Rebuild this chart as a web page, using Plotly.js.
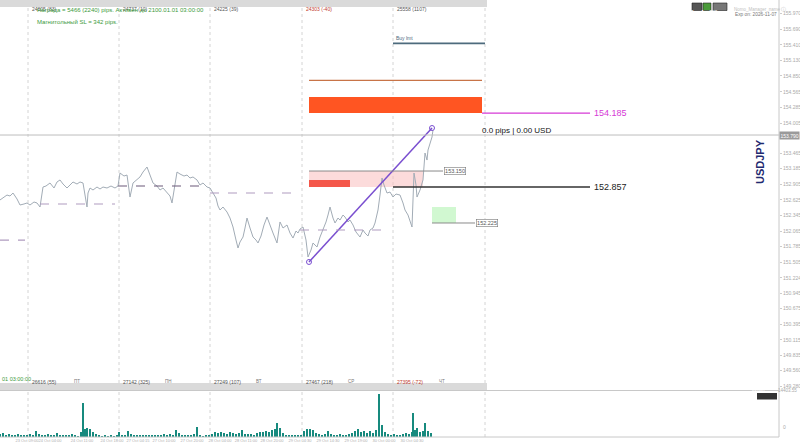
<!DOCTYPE html>
<html><head><meta charset="utf-8">
<script src="https://cdn.plot.ly/plotly-3.0.1.min.js"></script>
<style>html,body{margin:0;padding:0;background:#fff}#c{width:800px;height:446px}</style>
</head><body><div id="c"></div>
<script>
// ---- data ----
const priceX = [0,4,7,10,13,17,20,24,27,30,34,37,40,43,46,50,54,57,60,63,67,70,73,77,80,83,85,87,88,90,93,97,100,103,107,111,115,118,120,124,127,130,133,137,140,143,147,150,153,157,160,163,167,170,172,175,177,180,184,187,190,193,197,200,203,207,210,213,216,218,220,223,227,230,233,236,238,240,243,245,247,250,253,256,258,261,264,267,270,273,275,277,280,283,287,290,293,296,298,300,303,306,308,311,313,317,320,323,326,328,330,333,335,338,340,343,345,348,350,353,356,360,363,365,368,370,373,375,378,380,382,384,387,390,393,396,400,403,405,408,410,412,413,414,416,417,420,423,425,427,428,430,432,433];
const priceY = [152.624,152.677,152.713,152.695,152.749,152.642,152.534,152.552,152.570,152.534,152.588,152.570,152.498,152.857,152.875,152.929,152.839,152.947,152.983,152.911,152.839,152.893,152.947,152.911,152.947,152.929,152.713,152.498,152.749,152.839,152.803,152.857,152.821,152.857,152.839,152.875,152.839,152.875,153.108,153.054,153.072,152.677,152.929,152.983,153.037,153.126,153.216,153.072,152.929,152.875,152.803,152.839,152.749,152.695,152.570,152.893,153.126,153.090,153.054,153.072,153.018,153.037,152.983,152.893,152.929,152.857,152.839,152.749,152.659,152.516,152.444,152.498,152.408,152.300,152.139,151.905,151.762,151.870,151.959,152.121,152.300,152.121,151.959,151.905,151.852,151.977,152.175,152.318,152.157,152.031,151.941,151.852,152.229,152.121,152.175,152.031,151.941,152.067,152.031,152.103,152.139,151.905,151.600,151.726,151.852,151.780,151.959,152.085,152.229,152.354,152.498,152.300,152.211,152.300,152.264,152.354,152.318,152.229,152.264,152.175,152.049,151.959,152.085,152.031,151.977,152.085,152.121,152.211,152.444,152.713,153.018,152.893,152.749,152.767,152.677,152.731,152.713,152.570,152.444,152.354,152.264,152.139,152.624,153.108,152.893,152.677,152.803,152.983,153.467,153.341,153.521,153.647,153.754,153.880];

const volX = [0,3,6,9,12,15,18,21,24,27,30,33,36,39,42,45,48,51,54,57,60,63,66,69,72,75,78,81,83,85,87,90,93,96,99,102,105,108,111,114,117,119,122,125,128,131,134,137,140,143,146,149,152,155,158,161,164,167,170,173,176,179,182,185,188,191,194,197,200,203,206,209,212,215,218,221,224,227,230,233,236,239,242,245,248,251,254,257,260,263,266,269,272,275,277,280,283,286,289,292,295,298,301,304,307,310,313,316,319,322,325,328,331,334,337,340,343,346,349,352,355,358,361,364,367,370,373,376,379,382,385,388,391,394,397,400,403,406,409,412,413,415,417,420,423,425,428,431];
const volY = [900,1200,700,1000,600,800,1100,500,700,600,900,700,1800,1000,700,600,1000,800,700,1200,600,500,700,600,900,500,400,1600,10900,2600,3000,2600,1500,900,600,400,500,300,700,400,500,1600,800,700,1800,900,600,700,500,600,800,600,500,700,600,800,900,700,1000,800,2100,1200,700,600,500,700,900,3200,700,400,500,600,900,1500,1300,1700,1200,900,1500,1200,1000,1300,2300,1100,900,1000,800,1300,1500,1700,1900,1600,2200,2600,4500,3000,1200,800,700,600,500,600,700,1800,2600,2500,2200,1400,1000,800,900,1800,1100,800,700,900,700,800,1000,1200,1900,2500,1500,1800,1200,1900,1400,2200,13800,4000,1500,1000,800,900,700,600,900,1200,1000,1500,7700,2200,3000,1500,1800,4500,2000,1200];

const levelStart = [0,40,118,210,300];
const levelEnd   = [25,115,207,298,390];
const levelPrice = [151.905,152.552,152.875,152.749,152.085];

const trendX = [309,432];
const trendY = [151.511,153.916];

const priceTicks = [155.970,155.690,155.410,155.130,154.850,154.565,154.285,154.005,153.465,153.185,152.905,152.625,152.345,152.065,151.785,151.505,151.224,150.945,150.675,150.395,150.115,149.835,149.560,149.280];
const currentPrice = 153.790;

const timeTickX = [3,27,50,82,112,138,164,192,220,246,272,300,328,356,384,412];
const timeTickText = ["21:30","23 Oct 09:00","24 Oct 04:00","24 Oct 11:00","24 Oct 18:00","27 Oct 04:15","27 Oct 10:00","27 Oct 20:00","28 Oct 04:00","28 Oct 11:00","28 Oct 20:00","29 Oct 04:30","29 Oct 14:30","29 Oct 19:00","30 Oct 00:00","30 Oct 04:30"];

const sessionX = [28,119,210,302,393,485];
const topLabels = ["24805 (83)","24737 (10)","24225 (39)","24303 (-40)","25558 (1107)"];
const bottomLabels = ["26616 (55)","27142 (325)","27249 (107)","27467 (218)","27395 (-72)"];
const dayLabels = ["ПТ","ПН","ВТ","СР","ЧТ"];

// zones [x0,x1,p0,p1]
const sellZoneX = [309,423], sellZoneP = [152.857,153.144];
const sellCoreX = [309,350], sellCoreP = [152.857,152.983];
const buyZoneX = [432,456], buyZoneP = [152.211,152.498];
const tpZoneX = [309,482], tpZoneP = [154.185,154.472];
const line153150 = {x:[309,443], p:153.144, label:"153.150"};
const line152225 = {x:[432,475], p:152.211, label:"152.225"};
const line152857 = {x:[393,590], p:152.857, label:"152.857"};
const line154185 = {x:[482,590], p:154.185, label:"154.185"};
const lineBrown = {x:[309,482], p:154.772};
const lineLimit = {x:[393,485], p:155.436, label:"Buy lmt"};

// ---- layout helpers ----
const H = 437; // plot pixel height
const py = px => 1 - px/H;
const FONT = "Liberation Sans, Arial, sans-serif";

const traces = [
  {x:priceX, y:priceY, type:'scatter', mode:'lines', line:{color:'#a2acb6', width:1}, xaxis:'x', yaxis:'y', hoverinfo:'skip'},
  {x:trendX, y:trendY, type:'scatter', mode:'lines+markers', line:{color:'#7a4fd0', width:1.5},
   marker:{symbol:'circle-open', size:5, color:'#7a4fd0'}, xaxis:'x', yaxis:'y'},
  {x:volX, y:volY, type:'bar', marker:{color:'#178a7e', line:{width:0}}, width:1.6, xaxis:'x', yaxis:'y2'}
];

const shapes = [];
const ann = [];

// gridlines
sessionX.forEach(x => shapes.push({type:'line', xref:'x', yref:'paper', x0:x, x1:x, y0:0, y1:1, line:{color:'#d4d4d4', width:1, dash:'dot'}, layer:'below'}));
// current price line
shapes.push({type:'line', xref:'paper', yref:'y', x0:0, x1:1, y0:currentPrice, y1:currentPrice, line:{color:'#bdbdbd', width:1}});
// level dashes
levelStart.forEach((s,i) => shapes.push({type:'line', xref:'x', yref:'y', x0:s, x1:levelEnd[i], y0:levelPrice[i], y1:levelPrice[i],
  line:{color: i===2 ? '#6a5878' : '#b09cc0', width:1.2, dash:'dash'}}));
// zones
shapes.push({type:'rect', xref:'x', yref:'y', x0:sellZoneX[0], x1:sellZoneX[1], y0:sellZoneP[0], y1:sellZoneP[1], fillcolor:'rgba(250,190,190,0.55)', line:{width:0}, layer:'below'});
shapes.push({type:'rect', xref:'x', yref:'y', x0:sellCoreX[0], x1:sellCoreX[1], y0:sellCoreP[0], y1:sellCoreP[1], fillcolor:'#f4574a', line:{width:0}, layer:'below'});
shapes.push({type:'rect', xref:'x', yref:'y', x0:buyZoneX[0], x1:buyZoneX[1], y0:buyZoneP[0], y1:buyZoneP[1], fillcolor:'rgba(190,245,190,0.7)', line:{width:0}, layer:'below'});
shapes.push({type:'rect', xref:'x', yref:'y', x0:tpZoneX[0], x1:tpZoneX[1], y0:tpZoneP[0], y1:tpZoneP[1], fillcolor:'#ff5522', line:{width:0}});
// lines
[[line153150,'#8a8a8a',1],[line152225,'#8a8a8a',1],[line152857,'#333333',1.3],[line154185,'#d63ad6',1.3],[lineBrown,'#c87448',1.2],[lineLimit,'#4d6b7d',1.6]].forEach(([l,c,w]) =>
  shapes.push({type:'line', xref:'x', yref:'y', x0:l.x[0], x1:l.x[1], y0:l.p, y1:l.p, line:{color:c, width:w}}));
// bands top/bottom
shapes.push({type:'rect', xref:'x', yref:'paper', x0:0, x1:487, y0:py(7), y1:1, fillcolor:'#dadada', line:{width:0}});
shapes.push({type:'rect', xref:'x', yref:'paper', x0:0, x1:487, y0:py(390), y1:py(383), fillcolor:'#dadada', line:{width:0}});
// panel borders
shapes.push({type:'line', xref:'paper', yref:'paper', x0:0, x1:1, y0:py(390.5), y1:py(390.5), line:{color:'#c8c8c8', width:1}});
shapes.push({type:'line', xref:'paper', yref:'paper', x0:0, x1:1, y0:0, y1:0, line:{color:'#c8c8c8', width:1}});
shapes.push({type:'line', xref:'paper', yref:'paper', x0:1, x1:1, y0:0, y1:1, line:{color:'#c8c8c8', width:1}});
// menu button
shapes.push({type:'rect', xref:'paper', yref:'paper', x0:757/779, x1:777/779, y0:py(399.5), y1:py(393), fillcolor:'#333', line:{width:0}});
ann.push({xref:'paper', yref:'paper', x:767/779, y:py(396.3), text:'Menu', showarrow:false, font:{size:5, color:'#fff', family:FONT}});
// top right badges
[[692,702,'#555','B1'],[703,711,'#4a9a3a','1'],[713,727,'#777','1/2']].forEach(([a,b,c,t]) => {
  shapes.push({type:'rect', xref:'paper', yref:'paper', x0:a/779, x1:b/779, y0:py(10.5), y1:py(3), fillcolor:c, line:{color:'#222', width:0.6}});
  ann.push({xref:'paper', yref:'paper', x:(a+b)/2/779, y:py(6.8), text:t, showarrow:false, font:{size:6, color:'#fff', family:FONT}});
});
ann.push({xref:'paper', yref:'paper', x:732/779, y:py(3.5), xanchor:'left', text:'Nomo_Manager_name ⓘ', showarrow:false, font:{size:4.5, color:'#c0c0c0', family:FONT}});
ann.push({xref:'paper', yref:'paper', x:733/779, y:py(10.5), xanchor:'left', text:'Exp on: 2026-11-07', showarrow:false, font:{size:4.8, color:'#777', family:FONT}});

// session labels
topLabels.forEach((t,i) => ann.push({xref:'x', yref:'paper', x:sessionX[i]+2, y:py(3.5), xanchor:'left', text:t, showarrow:false,
  font:{size:5, color: t.includes('-') ? '#c0392b' : '#555', family:FONT}}));
bottomLabels.forEach((t,i) => {
  ann.push({xref:'x', yref:'paper', x:sessionX[i]+2, y:py(386.5), xanchor:'left', text:t, showarrow:false, font:{size:5, color: t.includes('-') ? '#c0392b' : '#555', family:FONT}});
  ann.push({xref:'x', yref:'paper', x:sessionX[i]+44, y:py(385.5), xanchor:'left', text:dayLabels[i], showarrow:false, font:{size:4.5, color:'#777', family:FONT}});
});
// green info texts
ann.push({xref:'paper', yref:'paper', x:35/779, y:py(4.5), xanchor:'left', text:'Награда = 5466 (2240) pips. Активен до 2100.01.01 03:00:00', showarrow:false, font:{size:6, color:'#3c9a3c', family:FONT}});
ann.push({xref:'paper', yref:'paper', x:35/779, y:py(17), xanchor:'left', text:'Магнитольный SL = 342 pips.', showarrow:false, font:{size:6, color:'#3c9a3c', family:FONT}});
ann.push({xref:'paper', yref:'paper', x:0, y:py(383.5), xanchor:'left', text:'01 03:00:00', showarrow:false, font:{size:5.5, color:'#3c9a3c', family:FONT}});
// line labels
ann.push({xref:'x', yref:'y', x:line152857.x[1]+2, y:line152857.p, xanchor:'left', text:line152857.label, showarrow:false, font:{size:9, color:'#222', family:FONT}});
ann.push({xref:'x', yref:'y', x:line154185.x[1]+2, y:line154185.p, xanchor:'left', text:line154185.label, showarrow:false, font:{size:9, color:'#d63ad6', family:FONT}});
ann.push({xref:'x', yref:'y', x:line153150.x[1]+1, y:line153150.p, xanchor:'left', text:line153150.label, showarrow:false, bordercolor:'#777', borderwidth:0.6, borderpad:0.5, bgcolor:'#fff', font:{size:5.5, color:'#555', family:FONT}});
ann.push({xref:'x', yref:'y', x:line152225.x[1]+1, y:line152225.p, xanchor:'left', text:line152225.label, showarrow:false, bordercolor:'#777', borderwidth:0.6, borderpad:0.5, bgcolor:'#fff', font:{size:5.5, color:'#555', family:FONT}});
ann.push({xref:'x', yref:'y', x:lineLimit.x[0]+1, y:lineLimit.p, yanchor:'bottom', xanchor:'left', text:lineLimit.label, showarrow:false, font:{size:5, color:'#4d6b7d', family:FONT}});
ann.push({xref:'x', yref:'y', x:480, y:trendY[1]-0.05, xanchor:'left', text:'0.0 pips | 0.00 USD', showarrow:false, font:{size:8, color:'#111', family:FONT}});
// current price box
ann.push({xref:'paper', yref:'y', x:1, y:currentPrice, xanchor:'left', text:currentPrice.toFixed(3), showarrow:false, bgcolor:'#9a9a9a', font:{size:5, color:'#fff', family:FONT}, borderpad:0.5});
// USDJPY
ann.push({xref:'paper', yref:'paper', x:768/779, y:py(162), text:'<b>USDJPY</b>', textangle:-90, showarrow:false, font:{size:11, color:'#1f2a70', family:FONT}});
// volume axis labels
ann.push({xref:'paper', yref:'paper', x:799/779, y:py(394.5), xanchor:'right', text:'14403.55', showarrow:false, font:{size:4.5, color:'#aaa', family:FONT}});
ann.push({xref:'paper', yref:'paper', x:1.003, y:py(432), xanchor:'left', text:'0', showarrow:false, font:{size:5, color:'#aaa', family:FONT}});

const layout = {
  width:800, height:446,
  margin:{l:0, r:21, t:0, b:9},
  paper_bgcolor:'#fff', plot_bgcolor:'#fff',
  showlegend:false,
  font:{family:FONT},
  bargap:0,
  xaxis:{range:[0,779], anchor:'y2', showgrid:false, zeroline:false, showline:false,
    tickmode:'array', tickvals:timeTickX, ticktext:timeTickText, ticklen:0, tickangle:0, automargin:false,
    tickfont:{size:4, color:'#b0b0b0'}},
  yaxis:{domain:[py(392), 1], range:[149.177, 156.214], side:'right', showgrid:false, zeroline:false,
    tickmode:'array', tickvals:priceTicks, ticktext:priceTicks.map(v=>v.toFixed(3)),
    ticks:'outside', ticklen:2, tickcolor:'#ccc', tickfont:{size:5, color:'#aaa'}},
  yaxis2:{domain:[0, py(392)], range:[0, 14403.55], side:'right', showgrid:false, zeroline:false, showticklabels:false},
  shapes:shapes, annotations:ann
};
Plotly.newPlot('c', traces, layout, {displayModeBar:false, staticPlot:true});
</script></body></html>
